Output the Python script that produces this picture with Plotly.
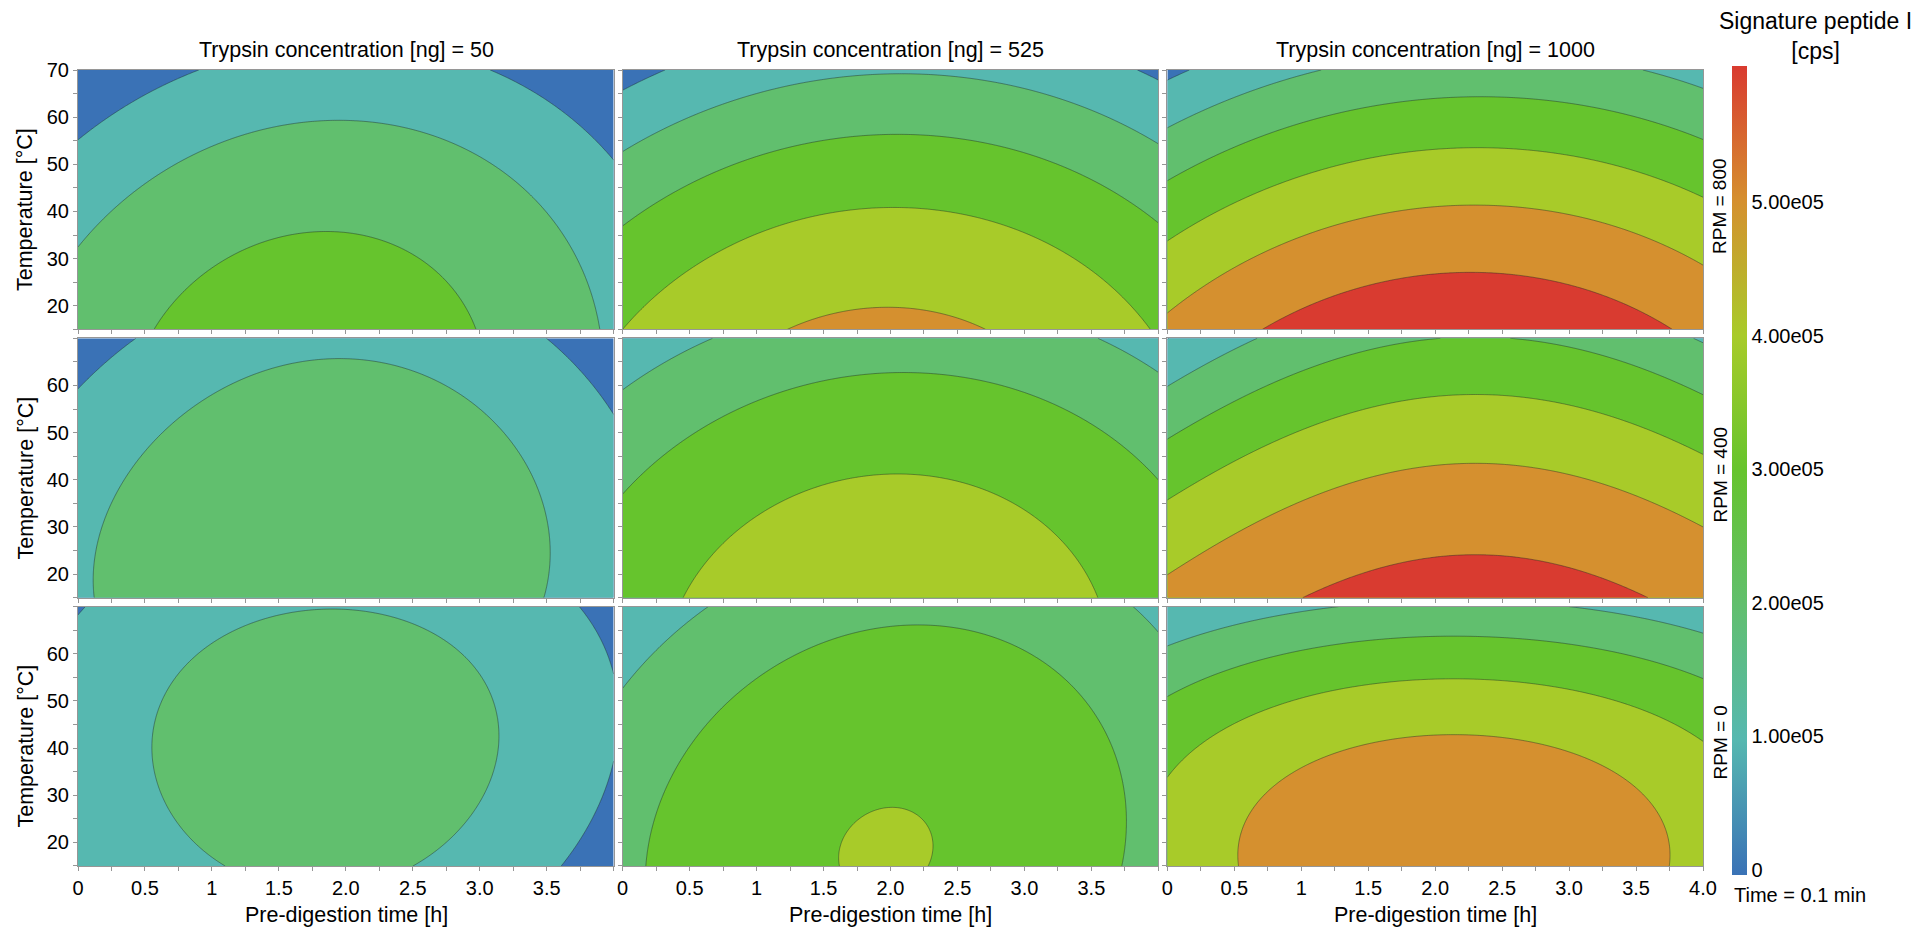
import numpy as np
import plotly.graph_objects as go
from plotly.subplots import make_subplots

# ---------------- data ----------------
trypsin_ng = [50, 525, 1000]            # columns
rpm_levels = [800, 400, 0]              # rows (top to bottom)
time_ticks = [0, 0.5, 1, 1.5, 2, 2.5, 3, 3.5, 4]
time_ticktext = ["0", "0.5", "1", "1.5", "2.0", "2.5", "3.0", "3.5", "4.0"]
temp_ticks = [20, 30, 40, 50, 60, 70]
cbar_ticks = [0, 1e5, 2e5, 3e5, 4e5, 5e5]
cbar_ticktext = ["0", "1.00e05", "2.00e05", "3.00e05", "4.00e05", "5.00e05"]
level_start, level_end, level_step = 0.5e5, 5.5e5, 1e5

# response-surface parameters (rows: RPM 800/400/0, cols: 50/525/1000 ng)
peak_value = [[3.07, 5.24, 7.73], [2.34, 4.26, 6.383], [2.048, 3.54, 5.47]]       # x1e5 cps
peak_time = [[1.77, 1.97, 2.24], [1.80, 2.00, 2.30], [1.80, 1.95, 2.14]]          # h (at 15 degC)
peak_temp = [[0, -20, -43], [25, 0, -18], [39.6, 18, 15]]                         # degC
time_curv = [[0.325, 0.30, 0.30], [0.28, 0.275, 0.205], [0.36, 0.328, 0.375]]    # x1e5 per h^2 at 15 degC
time_curv_slope = [[0.0, 0.0, 0.0], [0.0012, 0.0, 0.0033], [-0.0013, 0.0, -0.0022]]  # change per degC
temp_curv = [[4.46e-4, 4.7e-4, 4.54e-4], [5.07e-4, 4.47e-4, 4.98e-4], [6.13e-4, 4.49e-4, 1.25e-3]]
time_shift = [[0.004, 0.002, 0.002], [0.003, 0.002, 0.0], [0.0018, 0.005, 0.0]]   # h per degC

band_colors = ["#3a72b6", "#56b8b0", "#61bf6e", "#66c42d", "#a8cb29", "#d5902f", "#d93b30"]

# ---------------- figure ----------------
W, H = 1930, 931
ML, MR, MT, MB = 78, 227, 70, 65
PW, PH = W - ML - MR, H - MT - MB
FONT = "Liberation Sans, Arial, Helvetica, sans-serif"

colorscale = [[i / (len(band_colors) - 1), c] for i, c in enumerate(band_colors)]

fig = make_subplots(rows=3, cols=3, shared_xaxes=True, shared_yaxes=True,
                    horizontal_spacing=9 / PW, vertical_spacing=9 / PH)

xs = np.linspace(0, 4, 241)
ys = np.linspace(15, 70, 221)
X, Y = np.meshgrid(xs, ys)

for r in range(3):
    for c in range(3):
        xc = peak_time[r][c] + time_shift[r][c] * (Y - 15)
        a_y = time_curv[r][c] + time_curv_slope[r][c] * (Y - 15)
        Z = 1e5 * (peak_value[r][c]
                   - a_y * (X - xc) ** 2
                   - temp_curv[r][c] * (Y - peak_temp[r][c]) ** 2)
        fig.add_trace(go.Contour(
            x=xs, y=ys, z=Z, colorscale=colorscale, showscale=False,
            autocontour=False,
            contours=dict(start=level_start, end=level_end, size=level_step, coloring="fill"),
            line=dict(color="rgba(30,40,40,0.55)", width=0.8),
            hoverinfo="skip"), row=r + 1, col=c + 1)

# continuous colour bar
fig.add_trace(go.Scatter(
    x=[None], y=[None], mode="markers", showlegend=False, hoverinfo="skip",
    marker=dict(color=[0], colorscale=colorscale, cmin=-4000, cmax=602000, showscale=True,
                colorbar=dict(thickness=15, thicknessmode="pixels", len=809, lenmode="pixels",
                              x=(1732 - ML) / PW, xanchor="left", xpad=0,
                              y=(MT + PH - 470.5) / PH, yanchor="middle", ypad=0,
                              outlinewidth=0, ticks="", tickvals=cbar_ticks, ticktext=cbar_ticktext,
                              tickfont=dict(family=FONT, size=20, color="black"))),
), row=1, col=1)

axis_common = dict(showline=True, mirror=True, linecolor="rgb(150,150,150)", linewidth=1,
                   ticks="outside", ticklen=4, tickcolor="rgb(150,150,150)",
                   showgrid=False, zeroline=False,
                   tickfont=dict(family=FONT, size=20, color="black"))

for c in range(3):
    tv = time_ticks if c == 2 else time_ticks[:-1]
    tt = time_ticktext if c == 2 else time_ticktext[:-1]
    for r in range(3):
        fig.update_xaxes(range=[0, 4], tickvals=tv, ticktext=tt,
                         minor=dict(dtick=0.25, tick0=0, ticks="outside", ticklen=4,
                                    tickcolor="rgb(150,150,150)"),
                         **axis_common, row=r + 1, col=c + 1)
for r in range(3):
    tv = temp_ticks if r == 0 else temp_ticks[:-1]
    for c in range(3):
        fig.update_yaxes(range=[15, 70], tickvals=tv,
                         minor=dict(dtick=5, tick0=15, ticks="outside", ticklen=4,
                                    tickcolor="rgb(150,150,150)"),
                         **axis_common, row=r + 1, col=c + 1)

def px_x(px):
    return (px - ML) / PW

def px_y(py):
    return (MT + PH - py) / PH

col_centers = [(78 + 614) / 2, (623 + 1158) / 2, (1167 + 1703) / 2]
row_centers = [200, 468.5, 736.5]

ann = []
for c, ng in enumerate(trypsin_ng):
    ann.append(dict(text=f"Trypsin concentration [ng] = {ng}", x=px_x(col_centers[c]), y=px_y(50),
                    xref="paper", yref="paper", showarrow=False, xanchor="center", yanchor="middle",
                    font=dict(family=FONT, size=21.5, color="black")))
    ann.append(dict(text="Pre-digestion time [h]", x=px_x(col_centers[c]), y=px_y(915),
                    xref="paper", yref="paper", showarrow=False, xanchor="center", yanchor="middle",
                    font=dict(family=FONT, size=21.5, color="black")))
for r, rpm in enumerate(rpm_levels):
    ann.append(dict(text="Temperature [°C]", x=px_x(25), y=px_y(row_centers[r] + 10),
                    xref="paper", yref="paper", showarrow=False, textangle=-90,
                    xanchor="center", yanchor="middle",
                    font=dict(family=FONT, size=21.5, color="black")))
    ann.append(dict(text=f"RPM = {rpm}", x=px_x(1720), y=px_y(row_centers[r] + 6),
                    xref="paper", yref="paper", showarrow=False, textangle=-90,
                    xanchor="center", yanchor="middle",
                    font=dict(family=FONT, size=19, color="black")))
ann.append(dict(text="Signature peptide I<br>[cps]", x=px_x(1815), y=px_y(36),
                xref="paper", yref="paper", showarrow=False, xanchor="center", yanchor="middle",
                font=dict(family=FONT, size=23, color="black")))
ann.append(dict(text="Time = 0.1 min", x=px_x(1732), y=px_y(895),
                xref="paper", yref="paper", showarrow=False, xanchor="left", yanchor="middle",
                font=dict(family=FONT, size=20, color="black")))

fig.update_layout(width=W, height=H, margin=dict(l=ML, r=MR, t=MT, b=MB),
                  paper_bgcolor="white", plot_bgcolor="white", showlegend=False,
                  annotations=ann, font=dict(family=FONT, color="black"))

fig.write_html("out.html", config={"displayModeBar": False},
               post_script="document.body.style.margin='0px';document.body.style.overflow='hidden';")
